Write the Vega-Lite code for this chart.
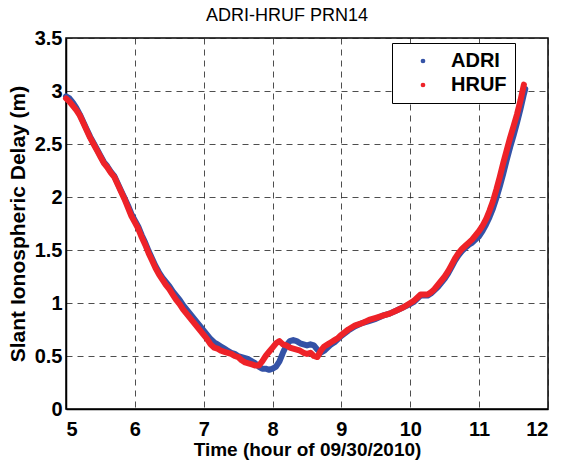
{
  "$schema": "https://vega.github.io/schema/vega-lite/v6.json",
  "width": 482,
  "height": 371,
  "autosize": {"type": "none"},
  "padding": {"left": 66, "top": 38, "right": 13, "bottom": 54},
  "background": "white",
  "title": {"text": "ADRI-HRUF PRN14", "font": "Liberation Sans", "fontSize": 18, "fontWeight": "normal", "color": "black", "offset": 3, "dx": -20},
  "config": {
    "view": {"stroke": "black", "strokeWidth": 1.5},
    "axis": {
      "labelFont": "Liberation Sans", "labelFontWeight": "bold", "labelFontSize": 20, "labelColor": "black",
      "titleFont": "Liberation Sans", "titleFontWeight": "bold", "titleColor": "black",
      "domainColor": "black", "domainWidth": 1.5, "tickSize": 0,
      "grid": true, "gridColor": "#222", "gridDash": [6, 5], "gridOpacity": 0.8, "gridWidth": 1
    }
  },
  "datasets": {
    "d": [
      {"s":"ADRI","t":5.00,"v":2.95},{"s":"ADRI","t":5.05,"v":2.93},{"s":"ADRI","t":5.10,"v":2.89},{"s":"ADRI","t":5.15,"v":2.84},{"s":"ADRI","t":5.20,"v":2.78},{"s":"ADRI","t":5.25,"v":2.71},{"s":"ADRI","t":5.30,"v":2.64},{"s":"ADRI","t":5.35,"v":2.57},{"s":"ADRI","t":5.40,"v":2.51},{"s":"ADRI","t":5.45,"v":2.45},{"s":"ADRI","t":5.50,"v":2.39},{"s":"ADRI","t":5.55,"v":2.33},{"s":"ADRI","t":5.60,"v":2.29},{"s":"ADRI","t":5.65,"v":2.24},{"s":"ADRI","t":5.70,"v":2.20},{"s":"ADRI","t":5.75,"v":2.13},{"s":"ADRI","t":5.80,"v":2.06},{"s":"ADRI","t":5.85,"v":1.99},{"s":"ADRI","t":5.90,"v":1.92},{"s":"ADRI","t":5.95,"v":1.84},{"s":"ADRI","t":6.00,"v":1.78},{"s":"ADRI","t":6.05,"v":1.72},{"s":"ADRI","t":6.10,"v":1.64},{"s":"ADRI","t":6.15,"v":1.57},{"s":"ADRI","t":6.20,"v":1.49},{"s":"ADRI","t":6.25,"v":1.42},{"s":"ADRI","t":6.30,"v":1.35},{"s":"ADRI","t":6.35,"v":1.29},{"s":"ADRI","t":6.40,"v":1.24},{"s":"ADRI","t":6.45,"v":1.20},{"s":"ADRI","t":6.50,"v":1.16},{"s":"ADRI","t":6.55,"v":1.11},{"s":"ADRI","t":6.60,"v":1.07},{"s":"ADRI","t":6.65,"v":1.03},{"s":"ADRI","t":6.70,"v":0.98},{"s":"ADRI","t":6.75,"v":0.94},{"s":"ADRI","t":6.80,"v":0.90},{"s":"ADRI","t":6.85,"v":0.86},{"s":"ADRI","t":6.90,"v":0.82},{"s":"ADRI","t":6.95,"v":0.78},{"s":"ADRI","t":7.00,"v":0.74},{"s":"ADRI","t":7.05,"v":0.70},{"s":"ADRI","t":7.10,"v":0.66},{"s":"ADRI","t":7.15,"v":0.63},{"s":"ADRI","t":7.20,"v":0.61},{"s":"ADRI","t":7.25,"v":0.59},{"s":"ADRI","t":7.30,"v":0.57},{"s":"ADRI","t":7.35,"v":0.55},{"s":"ADRI","t":7.40,"v":0.53},{"s":"ADRI","t":7.45,"v":0.52},{"s":"ADRI","t":7.50,"v":0.50},{"s":"ADRI","t":7.55,"v":0.49},{"s":"ADRI","t":7.60,"v":0.48},{"s":"ADRI","t":7.65,"v":0.47},{"s":"ADRI","t":7.70,"v":0.45},{"s":"ADRI","t":7.75,"v":0.43},{"s":"ADRI","t":7.80,"v":0.40},{"s":"ADRI","t":7.85,"v":0.38},{"s":"ADRI","t":7.90,"v":0.38},{"s":"ADRI","t":7.95,"v":0.37},{"s":"ADRI","t":8.00,"v":0.38},{"s":"ADRI","t":8.05,"v":0.40},{"s":"ADRI","t":8.10,"v":0.45},{"s":"ADRI","t":8.15,"v":0.53},{"s":"ADRI","t":8.20,"v":0.60},{"s":"ADRI","t":8.25,"v":0.64},{"s":"ADRI","t":8.30,"v":0.65},{"s":"ADRI","t":8.35,"v":0.64},{"s":"ADRI","t":8.40,"v":0.62},{"s":"ADRI","t":8.45,"v":0.61},{"s":"ADRI","t":8.50,"v":0.60},{"s":"ADRI","t":8.55,"v":0.61},{"s":"ADRI","t":8.60,"v":0.60},{"s":"ADRI","t":8.65,"v":0.56},{"s":"ADRI","t":8.70,"v":0.53},{"s":"ADRI","t":8.75,"v":0.55},{"s":"ADRI","t":8.80,"v":0.58},{"s":"ADRI","t":8.85,"v":0.61},{"s":"ADRI","t":8.90,"v":0.63},{"s":"ADRI","t":8.95,"v":0.66},{"s":"ADRI","t":9.00,"v":0.69},{"s":"ADRI","t":9.10,"v":0.74},{"s":"ADRI","t":9.20,"v":0.78},{"s":"ADRI","t":9.30,"v":0.81},{"s":"ADRI","t":9.40,"v":0.83},{"s":"ADRI","t":9.50,"v":0.85},{"s":"ADRI","t":9.60,"v":0.88},{"s":"ADRI","t":9.70,"v":0.90},{"s":"ADRI","t":9.80,"v":0.93},{"s":"ADRI","t":9.90,"v":0.96},{"s":"ADRI","t":10.00,"v":0.99},{"s":"ADRI","t":10.05,"v":1.01},{"s":"ADRI","t":10.10,"v":1.04},{"s":"ADRI","t":10.15,"v":1.07},{"s":"ADRI","t":10.20,"v":1.07},{"s":"ADRI","t":10.25,"v":1.07},{"s":"ADRI","t":10.30,"v":1.09},{"s":"ADRI","t":10.35,"v":1.12},{"s":"ADRI","t":10.40,"v":1.15},{"s":"ADRI","t":10.45,"v":1.19},{"s":"ADRI","t":10.50,"v":1.23},{"s":"ADRI","t":10.55,"v":1.28},{"s":"ADRI","t":10.60,"v":1.34},{"s":"ADRI","t":10.65,"v":1.40},{"s":"ADRI","t":10.70,"v":1.45},{"s":"ADRI","t":10.75,"v":1.49},{"s":"ADRI","t":10.80,"v":1.52},{"s":"ADRI","t":10.85,"v":1.55},{"s":"ADRI","t":10.90,"v":1.57},{"s":"ADRI","t":10.95,"v":1.60},{"s":"ADRI","t":11.00,"v":1.63},{"s":"ADRI","t":11.05,"v":1.68},{"s":"ADRI","t":11.10,"v":1.74},{"s":"ADRI","t":11.15,"v":1.81},{"s":"ADRI","t":11.20,"v":1.89},{"s":"ADRI","t":11.25,"v":1.99},{"s":"ADRI","t":11.30,"v":2.10},{"s":"ADRI","t":11.35,"v":2.22},{"s":"ADRI","t":11.40,"v":2.35},{"s":"ADRI","t":11.45,"v":2.47},{"s":"ADRI","t":11.50,"v":2.58},{"s":"ADRI","t":11.55,"v":2.70},{"s":"ADRI","t":11.60,"v":2.83},{"s":"ADRI","t":11.65,"v":2.97},{"s":"ADRI","t":11.67,"v":3.02},
      {"s":"HRUF","t":5.00,"v":2.93},{"s":"HRUF","t":5.05,"v":2.90},{"s":"HRUF","t":5.10,"v":2.86},{"s":"HRUF","t":5.15,"v":2.82},{"s":"HRUF","t":5.20,"v":2.77},{"s":"HRUF","t":5.25,"v":2.70},{"s":"HRUF","t":5.30,"v":2.63},{"s":"HRUF","t":5.35,"v":2.56},{"s":"HRUF","t":5.40,"v":2.50},{"s":"HRUF","t":5.45,"v":2.44},{"s":"HRUF","t":5.50,"v":2.38},{"s":"HRUF","t":5.55,"v":2.32},{"s":"HRUF","t":5.60,"v":2.28},{"s":"HRUF","t":5.65,"v":2.23},{"s":"HRUF","t":5.70,"v":2.19},{"s":"HRUF","t":5.75,"v":2.12},{"s":"HRUF","t":5.80,"v":2.05},{"s":"HRUF","t":5.85,"v":1.98},{"s":"HRUF","t":5.90,"v":1.90},{"s":"HRUF","t":5.95,"v":1.82},{"s":"HRUF","t":6.00,"v":1.76},{"s":"HRUF","t":6.05,"v":1.70},{"s":"HRUF","t":6.10,"v":1.62},{"s":"HRUF","t":6.15,"v":1.55},{"s":"HRUF","t":6.20,"v":1.47},{"s":"HRUF","t":6.25,"v":1.40},{"s":"HRUF","t":6.30,"v":1.33},{"s":"HRUF","t":6.35,"v":1.27},{"s":"HRUF","t":6.40,"v":1.22},{"s":"HRUF","t":6.45,"v":1.17},{"s":"HRUF","t":6.50,"v":1.13},{"s":"HRUF","t":6.55,"v":1.08},{"s":"HRUF","t":6.60,"v":1.03},{"s":"HRUF","t":6.65,"v":0.99},{"s":"HRUF","t":6.70,"v":0.94},{"s":"HRUF","t":6.75,"v":0.90},{"s":"HRUF","t":6.80,"v":0.86},{"s":"HRUF","t":6.85,"v":0.82},{"s":"HRUF","t":6.90,"v":0.78},{"s":"HRUF","t":6.95,"v":0.74},{"s":"HRUF","t":7.00,"v":0.70},{"s":"HRUF","t":7.05,"v":0.66},{"s":"HRUF","t":7.10,"v":0.61},{"s":"HRUF","t":7.15,"v":0.58},{"s":"HRUF","t":7.20,"v":0.57},{"s":"HRUF","t":7.25,"v":0.55},{"s":"HRUF","t":7.30,"v":0.54},{"s":"HRUF","t":7.35,"v":0.53},{"s":"HRUF","t":7.40,"v":0.52},{"s":"HRUF","t":7.45,"v":0.50},{"s":"HRUF","t":7.50,"v":0.49},{"s":"HRUF","t":7.55,"v":0.46},{"s":"HRUF","t":7.60,"v":0.44},{"s":"HRUF","t":7.65,"v":0.43},{"s":"HRUF","t":7.70,"v":0.42},{"s":"HRUF","t":7.75,"v":0.41},{"s":"HRUF","t":7.80,"v":0.41},{"s":"HRUF","t":7.85,"v":0.45},{"s":"HRUF","t":7.90,"v":0.50},{"s":"HRUF","t":7.95,"v":0.54},{"s":"HRUF","t":8.00,"v":0.58},{"s":"HRUF","t":8.05,"v":0.62},{"s":"HRUF","t":8.10,"v":0.64},{"s":"HRUF","t":8.15,"v":0.61},{"s":"HRUF","t":8.20,"v":0.60},{"s":"HRUF","t":8.25,"v":0.58},{"s":"HRUF","t":8.30,"v":0.57},{"s":"HRUF","t":8.35,"v":0.56},{"s":"HRUF","t":8.40,"v":0.55},{"s":"HRUF","t":8.45,"v":0.53},{"s":"HRUF","t":8.50,"v":0.52},{"s":"HRUF","t":8.55,"v":0.53},{"s":"HRUF","t":8.60,"v":0.50},{"s":"HRUF","t":8.65,"v":0.49},{"s":"HRUF","t":8.70,"v":0.55},{"s":"HRUF","t":8.75,"v":0.59},{"s":"HRUF","t":8.80,"v":0.61},{"s":"HRUF","t":8.85,"v":0.63},{"s":"HRUF","t":8.90,"v":0.65},{"s":"HRUF","t":8.95,"v":0.67},{"s":"HRUF","t":9.00,"v":0.70},{"s":"HRUF","t":9.10,"v":0.75},{"s":"HRUF","t":9.20,"v":0.79},{"s":"HRUF","t":9.30,"v":0.81},{"s":"HRUF","t":9.40,"v":0.84},{"s":"HRUF","t":9.50,"v":0.86},{"s":"HRUF","t":9.60,"v":0.88},{"s":"HRUF","t":9.70,"v":0.90},{"s":"HRUF","t":9.80,"v":0.93},{"s":"HRUF","t":9.90,"v":0.96},{"s":"HRUF","t":10.00,"v":1.00},{"s":"HRUF","t":10.05,"v":1.02},{"s":"HRUF","t":10.10,"v":1.05},{"s":"HRUF","t":10.15,"v":1.08},{"s":"HRUF","t":10.20,"v":1.08},{"s":"HRUF","t":10.25,"v":1.08},{"s":"HRUF","t":10.30,"v":1.10},{"s":"HRUF","t":10.35,"v":1.13},{"s":"HRUF","t":10.40,"v":1.17},{"s":"HRUF","t":10.45,"v":1.21},{"s":"HRUF","t":10.50,"v":1.25},{"s":"HRUF","t":10.55,"v":1.30},{"s":"HRUF","t":10.60,"v":1.36},{"s":"HRUF","t":10.65,"v":1.42},{"s":"HRUF","t":10.70,"v":1.47},{"s":"HRUF","t":10.75,"v":1.51},{"s":"HRUF","t":10.80,"v":1.54},{"s":"HRUF","t":10.85,"v":1.57},{"s":"HRUF","t":10.90,"v":1.60},{"s":"HRUF","t":10.95,"v":1.64},{"s":"HRUF","t":11.00,"v":1.68},{"s":"HRUF","t":11.05,"v":1.73},{"s":"HRUF","t":11.10,"v":1.79},{"s":"HRUF","t":11.15,"v":1.87},{"s":"HRUF","t":11.20,"v":1.96},{"s":"HRUF","t":11.25,"v":2.07},{"s":"HRUF","t":11.30,"v":2.19},{"s":"HRUF","t":11.35,"v":2.32},{"s":"HRUF","t":11.40,"v":2.44},{"s":"HRUF","t":11.45,"v":2.56},{"s":"HRUF","t":11.50,"v":2.67},{"s":"HRUF","t":11.55,"v":2.78},{"s":"HRUF","t":11.60,"v":2.91},{"s":"HRUF","t":11.65,"v":3.06}
    ]
  },
  "data": {"name": "d"},
  "mark": {"type": "line", "strokeWidth": 6, "strokeCap": "round", "strokeJoin": "round"},
  "encoding": {
    "x": {
      "field": "t", "type": "quantitative",
      "scale": {"domain": [5, 12], "nice": false, "zero": false},
      "axis": {"values": [5, 6, 7, 8, 9, 10, 11, 12], "title": "Time (hour of 09/30/2010)", "titleFontSize": 19, "labelPadding": 10, "titlePadding": 1, "format": "~g"}
    },
    "y": {
      "field": "v", "type": "quantitative",
      "scale": {"domain": [0, 3.5], "nice": false},
      "axis": {"values": [0, 0.5, 1, 1.5, 2, 2.5, 3, 3.5], "title": "Slant Ionospheric Delay (m)", "titleFontSize": 21, "labelPadding": 4, "titlePadding": 6, "format": "~g"}
    },
    "color": {
      "field": "s", "type": "nominal",
      "scale": {"domain": ["ADRI", "HRUF"], "range": ["#3452a6", "#ee2228"]},
      "legend": {
        "title": null, "orient": "none", "legendX": 326, "legendY": 5,
        "symbolType": "circle", "symbolSize": 5, "symbolStrokeWidth": 2.5,
        "labelFont": "Liberation Sans", "labelFontWeight": "bold", "labelFontSize": 20, "labelColor": "black",
        "padding": 8, "rowPadding": 4, "symbolOffset": 13, "labelOffset": 18,
        "strokeColor": "black", "fillColor": "white", "cornerRadius": 0
      }
    }
  }
}
